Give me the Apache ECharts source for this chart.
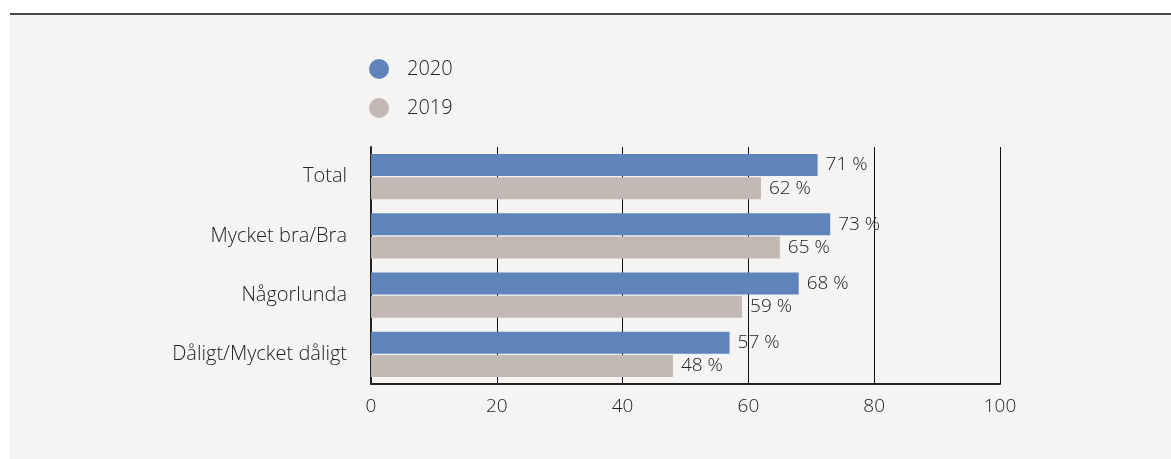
<!DOCTYPE html>
<html><head><meta charset="utf-8">
<script src="https://cdn.jsdelivr.net/npm/echarts@6/dist/echarts.min.js"></script>
<style>
html,body{margin:0;padding:0;background:#fff;width:1171px;height:459px;overflow:hidden;}
#topline{position:absolute;left:10px;top:13px;width:1161px;height:2px;background:#4a4a4a;}
#c{position:absolute;left:10px;top:15px;width:1161px;height:444px;background:#f5f4f2;}
</style></head><body>
<div id="topline"></div>
<div id="c"></div>
<script>
const categories = ['Total', 'Mycket bra/Bra', 'Någorlunda', 'Dåligt/Mycket dåligt'];
const seriesNames = ['2020', '2019'];
const values2020 = [71, 73, 68, 57];
const values2019 = [62, 65, 59, 48];
const xTicks = [0, 20, 40, 60, 80, 100];

const font = "'Open Sans', 'Noto Sans', sans-serif";
const fw = 300;
const txt = '#222';
const chart = echarts.init(document.getElementById('c'), null, {renderer: 'canvas'});
chart.setOption({
  animation: false,
  backgroundColor: 'transparent',
  legend: {
    orient: 'vertical', left: 354, top: 39,
    itemWidth: 20, itemHeight: 20, itemGap: 19, icon: 'circle',
    textStyle: {fontFamily: font, fontWeight: fw, fontSize: 20, color: txt, padding: [0,0,0,13]},
    data: seriesNames
  },
  grid: {left: 361, right: 171, top: 132, bottom: 75, containLabel: false},
  xAxis: {
    type: 'value', min: 0, max: 100, interval: 20,
    axisLine: {show: true, lineStyle: {color: '#222', width: 2}},
    axisTick: {show: false},
    splitLine: {show: true, lineStyle: {color: '#111', width: 1}},
    axisLabel: {fontFamily: font, fontWeight: fw, fontSize: 19, color: txt, margin: 13,
      formatter: v => xTicks.includes(v) ? String(v) : ''}
  },
  yAxis: {
    type: 'category', data: categories, inverse: true,
    axisLine: {show: true, lineStyle: {color: '#222', width: 2}},
    axisTick: {show: false},
    axisLabel: {fontFamily: font, fontWeight: fw, fontSize: 20, color: txt, margin: 24}
  },
  series: [
    {name: seriesNames[0], type: 'bar', data: values2020, barWidth: 22, barGap: '5%',
     itemStyle: {color: '#5f84b9'},
     label: {show: true, position: 'right', distance: 8, formatter: '{c} %', fontFamily: font, fontWeight: fw, fontSize: 19, color: txt}},
    {name: seriesNames[1], type: 'bar', data: values2019, barWidth: 22, barGap: '5%',
     itemStyle: {color: '#c2b9b5'},
     label: {show: true, position: 'right', distance: 8, formatter: '{c} %', fontFamily: font, fontWeight: fw, fontSize: 19, color: txt}}
  ]
});
</script>
</body></html>
